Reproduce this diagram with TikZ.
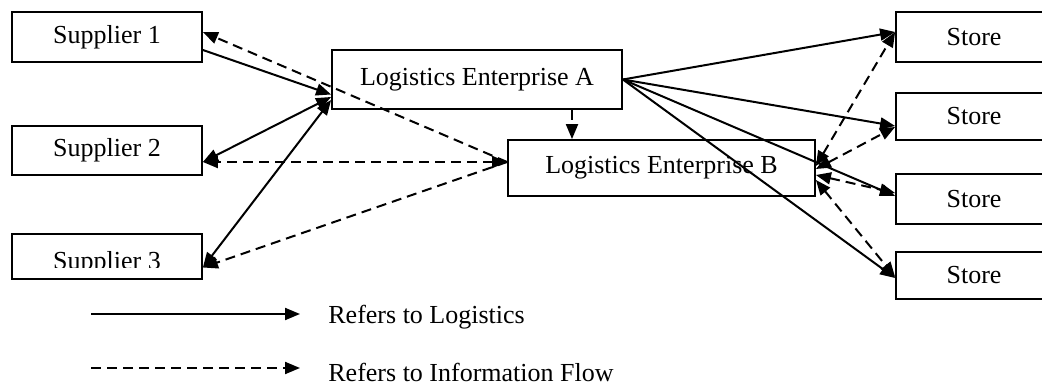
\documentclass[tikz,border=0pt]{standalone}
\usepackage{fontspec}
\setmainfont{Liberation Serif}
\usetikzlibrary{arrows.meta}
\begin{document}
\begin{tikzpicture}[x=0.5pt,y=-0.5pt,
  box/.style={draw,line width=0.9pt,inner sep=0pt,font=\fontsize{13}{15}\selectfont},
  lbl/.style={inner sep=0pt,font=\fontsize{13}{15}\selectfont},
  logi/.style={line width=1pt,-{Triangle[length=7.5pt,width=6pt]}},
  logib/.style={line width=1pt,{Triangle[length=7.5pt,width=6pt]}-{Triangle[length=7.5pt,width=6pt]}},
  info/.style={line width=1pt,dash pattern=on 5pt off 3pt,-{Triangle[length=7.5pt,width=6pt]}},
  infob/.style={line width=1pt,dash pattern=on 5pt off 3pt,{Triangle[length=7.5pt,width=6pt]}-{Triangle[length=7.5pt,width=6pt]}}]
\useasboundingbox (0,0) rectangle (1042,389);
\clip (0,0) rectangle (1042,389);
% suppliers
\node[box,minimum width=95pt,minimum height=25pt] (s1) at (107,37) {Supplier 1};
\node[box,minimum width=95pt,minimum height=24.5pt] (s2) at (107,150.5) {Supplier 2};
\node[box,minimum width=95pt,minimum height=22.5pt] (s3) at (107,256.5) {};
\begin{scope}
\clip (12,234) rectangle (202,268);
\node[lbl,anchor=base] (s3t) at (107,270) {Supplier 3};
\end{scope}
% enterprises
\node[box,minimum width=145pt,minimum height=29.5pt] (A) at (477,79.5) {Logistics Enterprise A};
\node[box,minimum width=153.5pt,minimum height=28pt] (B) at (661.5,168) {Logistics Enterprise B};
% stores
\node[box,minimum width=78pt,minimum height=25pt] (t1) at (974,37) {Store};
\node[box,minimum width=78pt,minimum height=23.5pt] (t2) at (974,116.5) {Store};
\node[box,minimum width=78pt,minimum height=25pt] (t3) at (974,199) {Store};
\node[box,minimum width=78pt,minimum height=23.5pt] (t4) at (974,275.5) {Store};
% logistics (solid)
\draw[logi] ([yshift=-6.5pt]s1.east) -- ([yshift=-7.5pt]A.west);
\draw[logib] ([yshift=-8.75pt]A.west) -- ([yshift=-5.75pt]s2.east);
\draw[logib] ([yshift=-10.25pt]A.west) -- ([yshift=-5.5pt]s3.east);
\draw[logi] (A.east) -- ([yshift=2.5pt]t1.west);
\draw[logi] (A.east) -- ([yshift=-4.75pt]t2.west);
\draw[logi] (A.east) -- ([yshift=1.5pt]t3.west);
\draw[logi] (A.east) -- ([yshift=-1.25pt]t4.west);
% information (dashed)
\draw[info] ([xshift=47.5pt]A.south) -- ([xshift=47.5pt]A.south |- B.north);
\draw[info] ([yshift=3pt]B.west) -- ([yshift=2.5pt]s1.east);
\draw[infob] ([yshift=3pt]B.west) -- ([yshift=-5.75pt]s2.east);
\draw[info] ([yshift=3pt]B.west) -- ([yshift=-5.5pt]s3.east);
\draw[infob] ([yshift=1pt]B.east) -- ([yshift=2.5pt]t1.west);
\draw[infob] ([yshift=-0.5pt]B.east) -- ([yshift=-5.25pt]t2.west);
\draw[infob] ([yshift=-3.5pt]B.east) -- ([yshift=3pt]t3.west);
\draw[infob] ([yshift=-6pt]B.east) -- ([yshift=-0.75pt]t4.west);
% legend
\coordinate (l1a) at (91,314);
\coordinate (l1b) at (300,314);
\coordinate (l2a) at (91,368);
\coordinate (l2b) at (300,368);
\draw[logi] (l1a) -- (l1b);
\draw[info] (l2a) -- (l2b);
\node[lbl,anchor=west] (lt1) at (328,317) {Refers to Logistics};
\node[lbl,anchor=west] (lt2) at (328,372) {Refers to Information Flow};
\end{tikzpicture}
\end{document}
